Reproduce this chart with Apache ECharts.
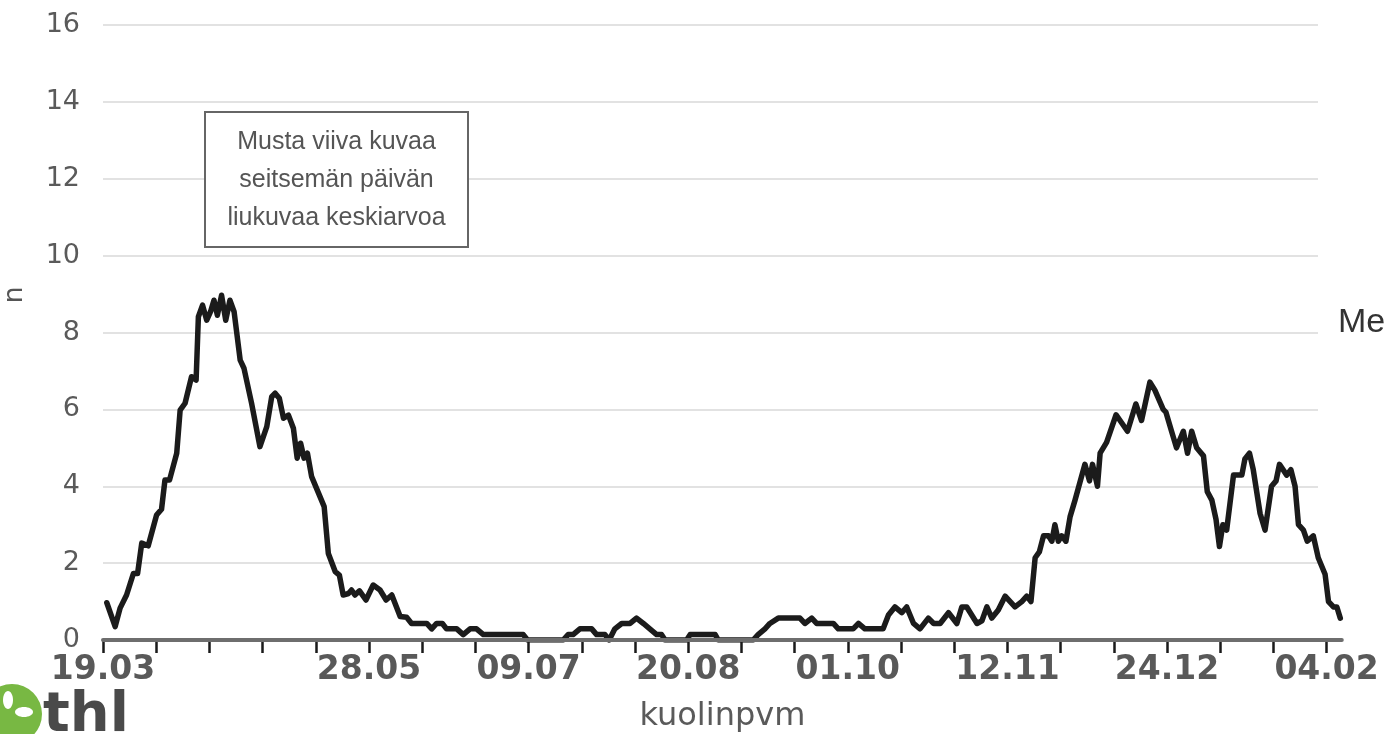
<!DOCTYPE html>
<html>
<head>
<meta charset="utf-8">
<title>kuolinpvm</title>
<script src="https://cdn.jsdelivr.net/npm/echarts@6/dist/echarts.min.js"></script>
<style>
  html, body { margin: 0; padding: 0; background: #fff; }
  #chart { width: 1384px; height: 734px; }
</style>
</head>
<body>
<div id="chart"></div>
<script>
// päivä = päiviä 19.03.2020 jälkeen
var dayIndex = [
  1.0, 3.2, 4.5, 6.2, 8.0, 9.1, 10.2, 11.9, 14.1, 15.4, 16.3, 17.5, 19.4, 20.3, 21.6, 23.3, 24.5,
  25.1, 26.2, 27.3, 28.3, 29.2, 30.1, 31.2, 32.3, 33.4, 34.5, 36.1, 37.1, 39.1, 41.3, 43.1, 44.4,
  45.3, 46.4, 47.5, 48.8, 50.1, 51.1, 52.0, 52.9, 53.8, 54.9, 57.1, 58.2, 59.3, 61.1, 62.2, 63.2,
  64.6, 65.4, 66.3, 67.5, 69.2, 71.1, 72.9, 74.5, 76.0, 78.2, 79.9, 81.2, 85.2, 86.5, 87.8, 89.3,
  90.4, 93.1, 94.8, 96.6, 98.3, 100.1, 110.6, 111.7, 121.1, 122.4, 123.7, 125.5, 128.6, 129.9,
  132.1, 133.2, 134.7, 136.5, 138.7, 140.4, 142.2, 143.9, 145.7, 147.0, 147.9, 153.6, 154.5,
  161.1, 161.9, 171.1, 172.4, 174.2, 175.5, 177.7, 183.4, 184.7, 186.5, 187.8, 192.2, 193.5,
  197.4, 198.8, 200.5, 205.3, 206.7, 208.4, 210.2, 211.5, 213.3, 215.0, 217.2, 218.6, 220.3,
  222.5, 224.7, 226.0, 227.3, 230.0, 231.3, 232.6, 233.9, 235.6, 237.4, 240.0, 241.8, 243.1,
  244.2, 245.3, 246.4, 247.5, 248.8, 249.7, 250.5, 251.4, 252.3, 253.4, 254.5, 255.8, 258.4,
  259.6, 260.4, 261.7, 262.4, 264.1, 266.6, 269.6, 271.8, 273.3, 275.5, 276.8, 279.0, 279.7,
  281.2, 282.5, 284.3, 285.4, 286.5, 287.8, 289.6, 290.6, 291.8, 292.9, 293.8, 294.7, 295.7,
  297.5, 299.7, 300.5, 301.7, 302.7, 304.5, 305.8, 307.5, 308.7, 309.6, 311.5, 312.6, 313.7,
  314.6, 315.9, 316.9, 318.5, 319.8, 321.6, 322.5, 323.8, 324.7, 325.6
];
var movingAvg = [
  0.97, 0.35, 0.83, 1.17, 1.73, 1.73, 2.52, 2.45, 3.25, 3.40, 4.16, 4.16, 4.86, 5.98, 6.16, 6.85, 6.76,
  8.41, 8.71, 8.32, 8.54, 8.84, 8.45, 8.97, 8.32, 8.84, 8.54, 7.28, 7.07, 6.16, 5.03, 5.55, 6.33,
  6.42, 6.29, 5.77, 5.85, 5.51, 4.73, 5.12, 4.73, 4.86, 4.25, 3.73, 3.47, 2.25, 1.78, 1.69, 1.17,
  1.21, 1.30, 1.17, 1.28, 1.04, 1.43, 1.30, 1.04, 1.17, 0.61, 0.59, 0.43, 0.43, 0.29, 0.43, 0.43,
  0.29, 0.29, 0.14, 0.29, 0.29, 0.14, 0.14, 0, 0, 0.14, 0.14, 0.29, 0.29, 0.14,
  0.14, 0, 0.29, 0.43, 0.43, 0.57, 0.43, 0.29, 0.14, 0.14, 0, 0, 0.14,
  0.14, 0, 0, 0.14, 0.29, 0.43, 0.57, 0.57, 0.43, 0.57, 0.43, 0.43, 0.29,
  0.29, 0.43, 0.29, 0.29, 0.65, 0.86, 0.71, 0.86, 0.43, 0.29, 0.57, 0.43, 0.43,
  0.71, 0.43, 0.86, 0.86, 0.43, 0.50, 0.86, 0.57, 0.78, 1.14, 0.86, 1.00, 1.14,
  1.00, 2.14, 2.29, 2.71, 2.71, 2.57, 3.00, 2.57, 2.71, 2.57, 3.21, 3.64, 4.57,
  4.14, 4.57, 4.00, 4.86, 5.14, 5.86, 5.43, 6.14, 5.71, 6.71, 6.50, 6.00, 5.93,
  5.43, 5.00, 5.43, 4.86, 5.43, 5.00, 4.79, 3.86, 3.64, 3.14, 2.43, 3.00, 2.86,
  4.29, 4.29, 4.71, 4.86, 4.43, 3.29, 2.86, 4.00, 4.14, 4.57, 4.29, 4.43, 4.00,
  3.00, 2.86, 2.57, 2.71, 2.14, 1.71, 1.00, 0.86, 0.86, 0.57
];
var tickDays = [0, 70, 112, 154, 196, 238, 280, 322];
var tickLabels = ['19.03', '28.05', '09.07', '20.08', '01.10', '12.11', '24.12', '04.02'];
var noteLines = ['Musta viiva kuvaa', 'seitsemän päivän', 'liukuvaa keskiarvoa'];

var chartDom = document.getElementById('chart');
var chart = echarts.init(chartDom, null, { renderer: 'canvas' });

var points = dayIndex.map(function (d, i) { return [d, movingAvg[i]]; });

var option = {
  animation: false,
  backgroundColor: '#fff',
  grid: [
    // apuviivat (loppuvat hieman ennen akselia)
    { left: 103, right: 66, top: 25, bottom: 94, outerBoundsMode: 'none' },
    // akselin merkit ja päivämäärät
    { left: 103, right: 57.4, top: 25, bottom: 94, outerBoundsMode: 'none' },
    // käyrä
    { left: 103, right: 42.2, top: 25, bottom: 94, outerBoundsMode: 'none' }
  ],
  xAxis: [
    { gridIndex: 0, type: 'value', min: 0, max: 1, show: false },
    {
      gridIndex: 1, type: 'value', min: 0, max: 322, interval: 14,
      axisLine: { show: false },
      axisTick: { show: true, length: 13, lineStyle: { color: '#1a1a1a', width: 2.5 } },
      splitLine: { show: false },
      axisLabel: {
        margin: 14,
        fontSize: 33,
        fontWeight: 'bold',
        fontFamily: 'DejaVu Sans',
        color: '#595959',
        formatter: function (v) {
          var i = tickDays.indexOf(Math.round(v));
          return i >= 0 ? tickLabels[i] : '';
        }
      }
    },
    {
      gridIndex: 2, type: 'value', min: 0, max: 326, z: 5,
      axisLine: { show: true, lineStyle: { color: '#6e6e6e', width: 4 } },
      axisTick: { show: false },
      axisLabel: { show: false },
      splitLine: { show: false },
      name: 'kuolinpvm',
      nameLocation: 'middle',
      nameGap: 61,
      nameTextStyle: { fontSize: 32, fontFamily: 'DejaVu Sans', color: '#5a5a5a' }
    }
  ],
  yAxis: [
    {
      gridIndex: 0, type: 'value', min: 0, max: 16, interval: 2,
      axisLine: { show: false },
      axisTick: { show: false },
      axisLabel: { margin: 23, fontSize: 27, fontFamily: 'DejaVu Sans', color: '#5a5a5a' },
      splitLine: { show: true, lineStyle: { color: '#e2e2e2', width: 2 } }
    },
    { gridIndex: 1, type: 'value', min: 0, max: 16, show: false },
    { gridIndex: 2, type: 'value', min: 0, max: 16, show: false }
  ],
  series: [{
    name: 'liukuva keskiarvo',
    type: 'line',
    xAxisIndex: 2,
    yAxisIndex: 2,
    data: points,
    showSymbol: false,
    lineStyle: { color: '#1b1b1b', width: 5.5, join: 'round', cap: 'round' }
  }],
  graphic: [
    {
      type: 'rect', z: 10,
      shape: { x: 205, y: 112, width: 263, height: 135 },
      style: { fill: '#fff', stroke: '#666', lineWidth: 2 }
    },
    {
      type: 'text', z: 11, x: 336.5, y: 180,
      style: {
        text: noteLines.join('\n'),
        align: 'center', verticalAlign: 'middle',
        font: '25px "Liberation Sans", Arial, sans-serif',
        lineHeight: 38,
        fill: '#555'
      }
    },
    {
      type: 'text', z: 11, x: 15, y: 295, rotation: Math.PI / 2,
      style: {
        text: 'n', align: 'center', verticalAlign: 'middle',
        font: '27px "DejaVu Sans", sans-serif', fill: '#555'
      }
    },
    {
      type: 'text', z: 11, x: 1338, y: 323,
      style: {
        text: 'Me', align: 'left', verticalAlign: 'middle',
        font: '34px "Liberation Sans", Arial, sans-serif', fill: '#333'
      }
    },
    // thl-logo
    {
      type: 'circle', z: 11,
      shape: { cx: 12, cy: 714, r: 30 },
      style: { fill: '#78b843' }
    },
    {
      type: 'ellipse', z: 12,
      shape: { cx: 8, cy: 700, rx: 5, ry: 9 },
      style: { fill: '#fff' }
    },
    {
      type: 'ellipse', z: 12,
      shape: { cx: 24, cy: 712, rx: 9, ry: 5 },
      style: { fill: '#fff' }
    },
    {
      type: 'text', z: 11, x: 43, y: 688,
      style: {
        text: 'thl', align: 'left', verticalAlign: 'top',
        font: 'bold 56px "DejaVu Sans", sans-serif', fill: '#4a4a4a'
      }
    }
  ]
};

chart.setOption(option);
</script>
</body>
</html>
